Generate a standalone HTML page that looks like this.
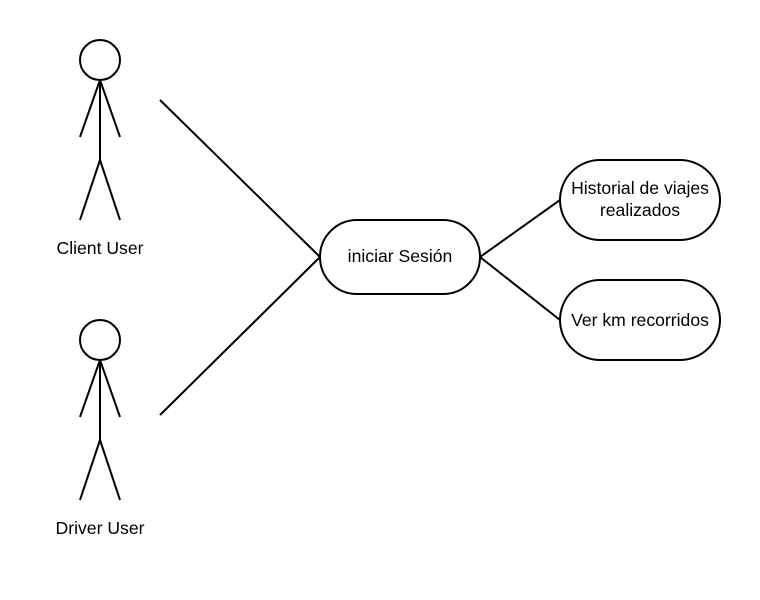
<!DOCTYPE html>
<html><head><style>body{margin:0;background:#fff}svg{display:block}</style></head><body>
<svg width="760" height="600" viewBox="0 0 760 600" xmlns="http://www.w3.org/2000/svg" font-family="Liberation Sans, sans-serif" font-size="17.6">
<g fill="none" stroke="#000" stroke-width="2">
<circle cx="100" cy="60" r="20"/>
<path d="M100 80V160M100 80L80 137M100 80L120 137M100 160L80 220M100 160L120 220"/>
<circle cx="100" cy="340" r="20"/>
<path d="M100 360V440M100 360L80 417M100 360L120 417M100 440L80 500M100 440L120 500"/>
<path d="M160 100L320 257M160 415L320 257M480 257L560 200M480 257L560 320"/>
<rect x="320" y="220" width="160" height="74" rx="37"/>
<rect x="560" y="160" width="160" height="80" rx="40"/>
<rect x="560" y="280" width="160" height="80" rx="40"/>
</g>
<g text-anchor="middle" fill="#000">
<text x="100" y="254">Client User</text>
<text x="100" y="534">Driver User</text>
<text x="400" y="262">iniciar Sesión</text>
<text x="640" y="194">Historial de viajes</text>
<text x="640" y="216">realizados</text>
<text x="640" y="326">Ver km recorridos</text>
</g>
</svg>
</body></html>
